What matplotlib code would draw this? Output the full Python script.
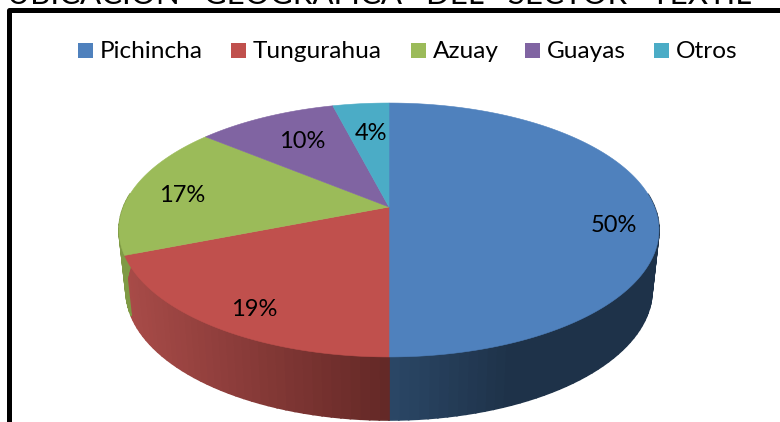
import numpy as np
import matplotlib
matplotlib.use("Agg")
import matplotlib.pyplot as plt
from matplotlib.colors import to_rgb

plt.rcParams["font.family"] = ["Lato", "DejaVu Sans"]

categories = ["Pichincha", "Tungurahua", "Azuay", "Guayas", "Otros"]
values = [50, 19, 17, 10, 4]
title = "UBICACIÓN   GEOGRÁFICA   DEL   SECTOR   TEXTIL"

colors = ["#4F81BD", "#C0504D", "#9BBB59", "#8064A2", "#4BACC6"]
# side wall shades: colour at left of the screen, colour at the right
wall_left = ["#2B4766", "#A84B48", "#7F9A45", "#5E4A78", "#37808F"]
wall_right = ["#1E3249", "#632826", "#6A8237", "#4D3C63", "#2C6978"]

# pixel position of each percent label
label_x = [614, 254, 182, 302, 371]
label_y = [225, 309, 195, 141, 133]
# legend swatch left edges
legend_x = [78, 231, 411, 525, 654]


# circle -> screen, the pie is seen in perspective so the apex is off centre
def project(theta, cx, apex_y, a, b, k):
    x = np.sin(theta)
    y = np.cos(theta)
    w = 1 + k * y
    return cx + a * x / w, apex_y - b * y / w


def top_face(theta):
    return project(theta, 389, 207, 265.5, 122.8, 0.181)


def bottom_face(theta):
    return project(theta, 389, 266.5, 258.6, 125.4, 0.183)


fig = plt.figure(figsize=(7.8, 4.22), dpi=100)
ax = fig.add_axes([0, 0, 1, 1])
ax.set_xlim(0, 780)
ax.set_ylim(422, 0)
ax.axis("off")

edges = np.concatenate([[0], np.cumsum(values)]) / sum(values) * 2 * np.pi

# side wall first, only the part facing the viewer
for i in range(len(values)):
    thetas = np.linspace(edges[i], edges[i + 1], values[i] * 2 + 2)
    tx, ty = top_face(thetas)
    bx, by = bottom_face(thetas)
    left = np.array(to_rgb(wall_left[i]))
    right = np.array(to_rgb(wall_right[i]))
    if i == 0:
        # blue wall flattens out to the dark shade quite quickly
        lo, hi = 389, 510
    else:
        lo, hi = 125, 389
    for j in range(len(thetas) - 1):
        if np.cos(thetas[j]) > 0.1 and np.cos(thetas[j + 1]) > 0.1:
            continue
        xm = (tx[j] + tx[j + 1]) / 2
        f = np.clip((xm - lo) / (hi - lo), 0, 1)
        c = left + (right - left) * f
        ax.fill([tx[j], tx[j + 1], bx[j + 1], bx[j]],
                [ty[j], ty[j + 1], by[j + 1], by[j]],
                color=c, lw=1.2, zorder=2)

# top face
for i in range(len(values)):
    thetas = np.linspace(edges[i], edges[i + 1], values[i] * 8 + 2)
    tx, ty = top_face(thetas)
    ax.fill(np.r_[389, tx], np.r_[207, ty], color=colors[i], lw=0.4, zorder=3)

for i in range(len(values)):
    ax.text(label_x[i], label_y[i], f"{values[i]}%", ha="center", va="center",
            fontsize=17, color="black", zorder=4)

# legend
for i in range(len(categories)):
    ax.add_patch(plt.Rectangle((legend_x[i], 43), 14.5, 14.5, color=colors[i], lw=0))
    ax.text(legend_x[i] + 22, 50, categories[i], ha="left", va="center_baseline",
            fontsize=17.6, color="black")

# frame and the cut off heading above it
ax.plot([8.5, 8.5, 780], [422, 9.8, 9.8], color="black", lw=3.6,
        solid_joinstyle="round", zorder=5)
ax.text(7, 4, title, ha="left", va="baseline", fontsize=22.5, color="black")

fig.savefig("out.png", dpi=100)
